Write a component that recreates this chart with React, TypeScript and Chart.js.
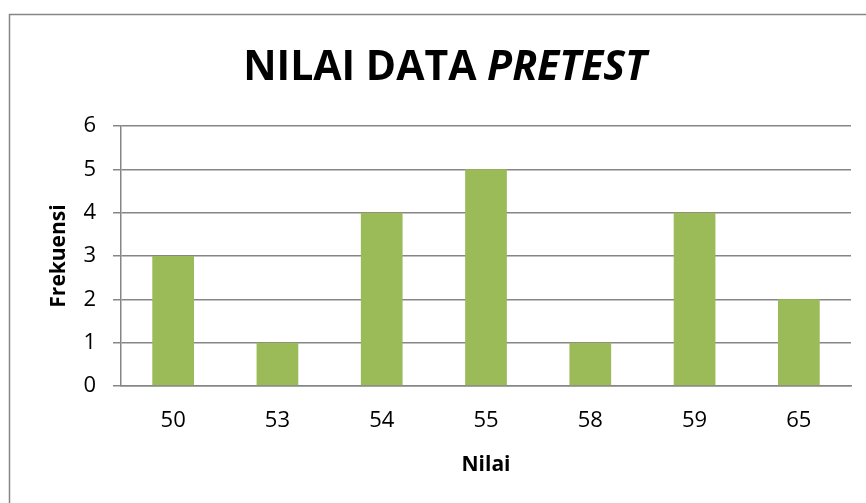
import { useEffect, useRef } from 'react';
import { Chart, registerables } from 'chart.js';

Chart.register(...registerables);

const categories = ['50', '53', '54', '55', '58', '59', '65'];
const frequencies = [3, 1, 4, 5, 1, 4, 2];
const yMin = 0;
const yMax = 6;
const yStep = 1;
const titleParts = [
  { text: 'NILAI DATA ', italic: false },
  { text: 'PRETEST', italic: true },
];
const xTitle = 'Nilai';
const yTitle = 'Frekuensi';

const FONT = '"Open Sans", "DejaVu Sans", sans-serif';
const GRID = '#868686';
const BAR = '#9BBB59';

const framePlugin = {
  id: 'frame',
  beforeDraw(chart: any) {
    const ctx = chart.ctx;
    ctx.save();
    ctx.fillStyle = '#ffffff';
    ctx.fillRect(0, 0, chart.width, chart.height);
    ctx.strokeStyle = GRID;
    ctx.lineWidth = 1.5;
    ctx.strokeRect(9.5, 14.5, 880, 520);
    ctx.restore();
  },
};

const titlePlugin = {
  id: 'mixedTitle',
  afterDraw(chart: any) {
    const ctx = chart.ctx;
    ctx.save();
    const size = 41;
    const fonts = titleParts.map(
      (p) => `${p.italic ? 'italic ' : ''}bold ${size}px ${FONT}`
    );
    let total = 0;
    const widths = titleParts.map((p, i) => {
      ctx.font = fonts[i];
      const w = ctx.measureText(p.text).width;
      total += w;
      return w;
    });
    let x = 445 - total / 2;
    ctx.fillStyle = '#000000';
    ctx.textBaseline = 'alphabetic';
    ctx.textAlign = 'left';
    titleParts.forEach((p, i) => {
      ctx.font = fonts[i];
      ctx.fillText(p.text, x, 80);
      x += widths[i];
    });
    ctx.restore();
  },
};

export default function App() {
  const ref = useRef<HTMLCanvasElement>(null);

  useEffect(() => {
    if (!ref.current) return;
    const chart = new Chart(ref.current, {
      type: 'bar',
      data: {
        labels: categories,
        datasets: [
          {
            label: 'Frekuensi',
            data: frequencies,
            backgroundColor: BAR,
            borderWidth: 0,
            categoryPercentage: 1,
            barPercentage: 0.4,
          },
        ],
      },
      options: {
        responsive: false,
        animation: false,
        devicePixelRatio: 1,
        layout: { padding: { top: 126, right: 15, left: 0, bottom: 0 } },
        plugins: {
          legend: { display: false },
          title: { display: false },
          tooltip: { enabled: false },
        },
        scales: {
          x: {
            grid: { display: false, drawTicks: false },
            border: { display: true, color: GRID, width: 1.5 },
            ticks: {
              color: '#000',
              font: { family: FONT, size: 22 },
              padding: 22,
              maxRotation: 0,
            },
            title: {
              display: true,
              text: xTitle,
              color: '#000',
              font: { family: FONT, size: 21, weight: 'bold' },
              padding: { top: 0, bottom: 25 },
            },
            afterFit: (scale: any) => {
              scale.height = 117;
            },
          },
          y: {
            min: yMin,
            max: yMax,
            ticks: {
              stepSize: yStep,
              color: '#000',
              font: { family: FONT, size: 22 },
              padding: 17,
            },
            grid: { color: GRID, lineWidth: 1.5, tickLength: 8 },
            border: { display: true, color: GRID, width: 1.5 },
            title: {
              display: true,
              text: yTitle,
              color: '#000',
              font: { family: FONT, size: 21, weight: 'bold' },
              padding: { top: 46, bottom: 0 },
            },
            afterFit: (scale: any) => {
              scale.width = 121;
            },
          },
        },
      },
      plugins: [framePlugin, titlePlugin],
    });
    return () => chart.destroy();
  }, []);

  return (
    <div style={{ position: 'absolute', left: 0, top: 0, width: 866, height: 503 }}>
      <canvas ref={ref} width={866} height={503} />
    </div>
  );
}
